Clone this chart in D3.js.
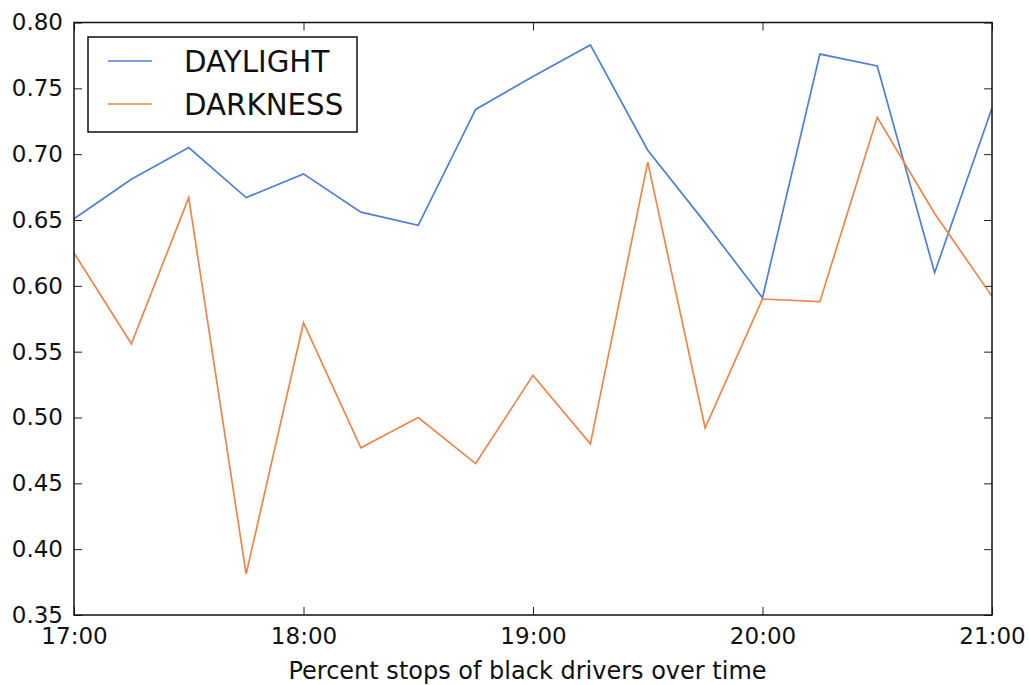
<!DOCTYPE html>
<html>
<head>
<meta charset="utf-8">
<script src="https://cdn.jsdelivr.net/npm/d3@7"></script>
<style>
  html, body { margin: 0; padding: 0; background: #fff; }
  svg { display: block; font-family: "DejaVu Sans", sans-serif; }
</style>
</head>
<body>
<svg id="chart" width="1029" height="685"></svg>
<script>
// Quarter-hour time slots between 17:00 and 21:00
const times = ["17:00","17:15","17:30","17:45","18:00","18:15","18:30","18:45",
               "19:00","19:15","19:30","19:45","20:00","20:15","20:30","20:45","21:00"];

// Share of stops involving black drivers, by lighting condition
const daylight = [0.651,0.681,0.705,0.667,0.685,0.656,0.646,0.734,
                  0.759,0.783,0.703,0.648,0.591,0.776,0.767,0.610,0.735];
const darkness = [0.625,0.556,0.667,0.381,0.572,0.477,0.500,0.465,
                  0.532,0.480,0.694,0.492,0.590,0.588,0.728,0.655,0.592];

const seriesNames = ["DAYLIGHT", "DARKNESS"];
const seriesColors = ["#4f7fd2", "#ee854a"];

const xTickLabels = ["17:00","18:00","19:00","20:00","21:00"];
const yTicks = [0.35,0.40,0.45,0.50,0.55,0.60,0.65,0.70,0.75,0.80];
const xLabel = "Percent stops of black drivers over time";

const parseTime = d3.timeParse("%H:%M");
const fmtTime = d3.timeFormat("%H:%M");

const svg = d3.select("#chart");
const m = { left: 74, right: 1029 - 992, top: 22.5, bottom: 685 - 615 };
const W = 1029 - m.left - m.right;
const H = 685 - m.top - m.bottom;

const g = svg.append("g").attr("transform", `translate(${m.left},${m.top})`);

const x = d3.scaleTime()
  .domain([parseTime(times[0]), parseTime(times[times.length - 1])])
  .range([0, W]);
const y = d3.scaleLinear().domain([0.35, 0.80]).range([H, 0]);

const xTickValues = xTickLabels.map(parseTime);
const tickLen = 8;
const fontTick = 23;

function styleAxis(sel) {
  sel.select(".domain").remove();
  sel.selectAll(".tick line").attr("stroke", "#222").attr("stroke-width", 1);
  sel.selectAll("text").attr("font-size", fontTick).attr("fill", "#111")
    .attr("font-family", "'DejaVu Sans', sans-serif");
}

// Bottom axis
g.append("g").attr("transform", `translate(0,${H})`)
  .call(d3.axisBottom(x).tickValues(xTickValues).tickFormat(fmtTime)
    .tickSizeInner(-tickLen).tickSizeOuter(0).tickPadding(12))
  .call(styleAxis)
  .call(s => s.selectAll("text").attr("y", 29).attr("dy", null));

// Top axis (ticks only)
g.append("g")
  .call(d3.axisTop(x).tickValues(xTickValues).tickFormat("")
    .tickSizeInner(-tickLen).tickSizeOuter(0))
  .call(styleAxis);

// Left axis
g.append("g")
  .call(d3.axisLeft(y).tickValues(yTicks).tickFormat(d3.format(".2f"))
    .tickSizeInner(-tickLen).tickSizeOuter(0).tickPadding(11))
  .call(styleAxis);

// Right axis (ticks only)
g.append("g").attr("transform", `translate(${W},0)`)
  .call(d3.axisRight(y).tickValues(yTicks).tickFormat("")
    .tickSizeInner(-tickLen).tickSizeOuter(0))
  .call(styleAxis);

// Lines
const line = d3.line()
  .x((d, i) => x(parseTime(times[i])))
  .y(d => y(d));

[daylight, darkness].forEach((vals, k) => {
  g.append("path")
    .datum(vals)
    .attr("fill", "none")
    .attr("stroke", seriesColors[k])
    .attr("stroke-width", 1.7)
    .attr("stroke-linejoin", "miter")
    .attr("d", line);
});

// Plot frame
g.append("rect")
  .attr("x", 0).attr("y", 0).attr("width", W).attr("height", H)
  .attr("fill", "none").attr("stroke", "#111").attr("stroke-width", 1.5);

// X axis title
svg.append("text")
  .attr("x", 527.5).attr("y", 679)
  .attr("text-anchor", "middle")
  .attr("font-size", 24).attr("fill", "#111")
  .text(xLabel);

// Legend
const lg = g.append("g").attr("transform", "translate(14,14.5)");
lg.append("rect")
  .attr("x", 0).attr("y", 0).attr("width", 269).attr("height", 95)
  .attr("fill", "#fff").attr("stroke", "#111").attr("stroke-width", 1.5);
seriesNames.forEach((name, k) => {
  const cy = 24 + k * 43;
  lg.append("line")
    .attr("x1", 20).attr("x2", 64).attr("y1", cy).attr("y2", cy)
    .attr("stroke", seriesColors[k]).attr("stroke-width", 1.7);
  lg.append("text")
    .attr("x", 96).attr("y", cy + 10.5)
    .attr("font-size", 29.3).attr("fill", "#111")
    .text(name);
});
</script>
</body>
</html>
